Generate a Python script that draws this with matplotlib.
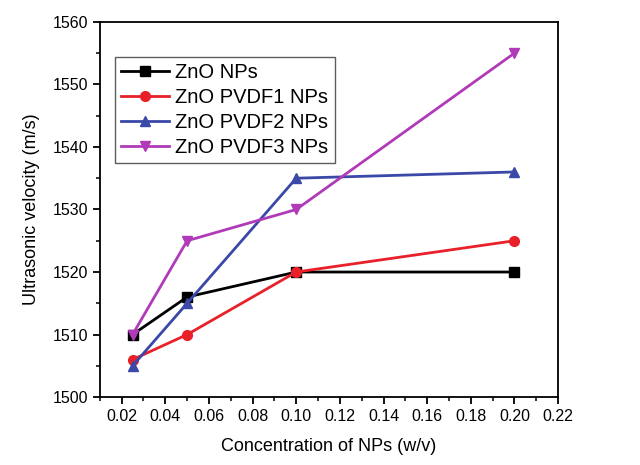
import matplotlib
matplotlib.use('Agg')
import matplotlib.pyplot as plt
from matplotlib.ticker import MultipleLocator

plt.rcParams['font.family'] = ['Liberation Sans', 'DejaVu Sans']

# Data ---------------------------------------------------------------------
conc = [0.025, 0.05, 0.10, 0.20]
zno = [1510, 1516, 1520, 1520]
pvdf1 = [1506, 1510, 1520, 1525]
pvdf2 = [1505, 1515, 1535, 1536]
pvdf3 = [1510, 1525, 1530, 1555]

series = [
    ('ZnO NPs', zno, '#000000', 's'),
    ('ZnO PVDF1 NPs', pvdf1, '#e8202a', 'o'),
    ('ZnO PVDF2 NPs', pvdf2, '#3a48a8', '^'),
    ('ZnO PVDF3 NPs', pvdf3, '#b03ab8', 'v'),
]

# Plot ---------------------------------------------------------------------
fig = plt.figure(figsize=(6.4, 4.65), dpi=100)
ax = fig.add_axes([0.156, 0.146, 0.716, 0.807])

for label, vals, col, mk in series:
    ax.plot(conc, vals, color=col, marker=mk, markersize=7, linewidth=2.0, label=label)

ax.set_xlim(0.01, 0.22)
ax.set_ylim(1500, 1560)
ax.xaxis.set_major_locator(MultipleLocator(0.02))
ax.xaxis.set_minor_locator(MultipleLocator(0.01))
ax.yaxis.set_major_locator(MultipleLocator(10))
ax.yaxis.set_minor_locator(MultipleLocator(5))
ax.xaxis.set_major_formatter(matplotlib.ticker.FormatStrFormatter('%.2f'))
ax.tick_params(which='major', direction='out', length=5, width=1.3, labelsize=11.5)
ax.tick_params(which='minor', direction='out', length=3, width=1.1)
for sp in ax.spines.values():
    sp.set_linewidth(1.3)

ax.set_xlabel('Concentration of NPs (w/v)', fontsize=13, labelpad=10)
ax.set_ylabel('Ultrasonic velocity (m/s)', fontsize=13, labelpad=9)

leg = ax.legend(loc='upper left', bbox_to_anchor=(0.033, 0.907), fontsize=14.5,
                frameon=True, fancybox=False, edgecolor='#333333', handlelength=2.4,
                borderpad=0.3, labelspacing=0.3, handletextpad=0.3, borderaxespad=0)
leg.get_frame().set_linewidth(1.0)

fig.savefig('out.png', dpi=100)
